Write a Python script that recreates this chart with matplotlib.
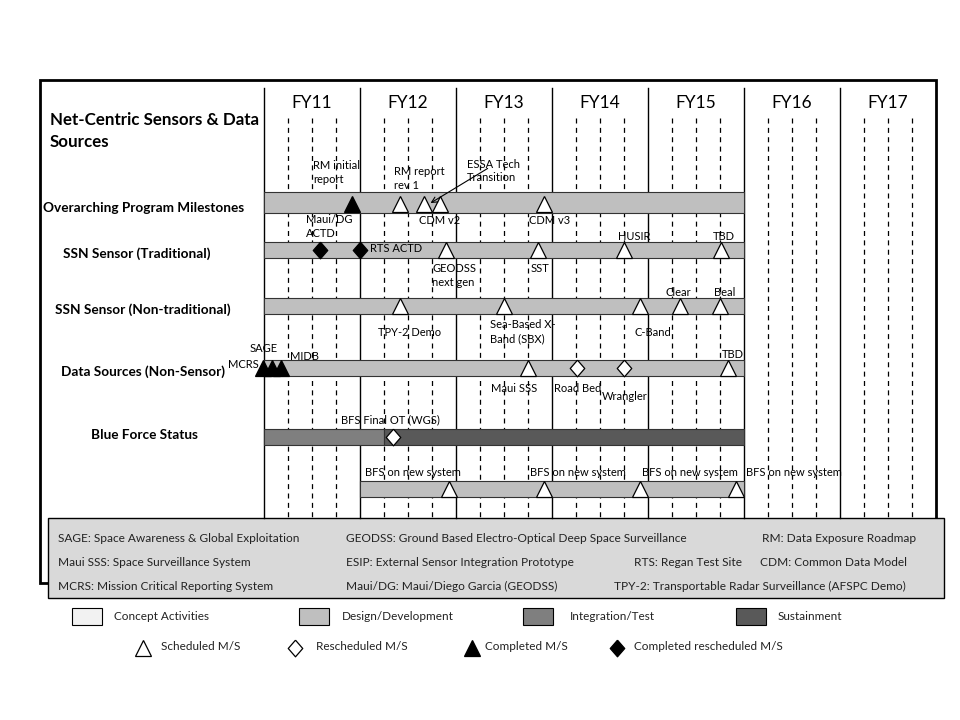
import matplotlib
matplotlib.use("Agg")
import matplotlib.pyplot as plt
from matplotlib.patches import Rectangle
from matplotlib.path import Path

plt.rcParams['font.family'] = ['Lato', 'DejaVu Sans']

# 财年表头
fy_labels = ['FY11', 'FY12', 'FY13', 'FY14', 'FY15', 'FY16', 'FY17']
fy_start = [2011, 2012, 2013, 2014, 2015, 2016, 2017]

# 各行名称
row_names = ['Overarching Program Milestones', 'SSN Sensor (Traditional)',
             'SSN Sensor (Non-traditional)', 'Data Sources (Non-Sensor)',
             'Blue Force Status', '']

# 条形：行号, 开始, 结束, 阶段
bar_row = [0, 1, 2, 3, 4, 4, 5]
bar_start = [2011.0, 2011.0, 2011.0, 2011.0, 2011.0, 2012.25, 2012.0]
bar_end = [2016.0, 2016.0, 2016.0, 2016.0, 2012.25, 2016.0, 2016.0]
bar_phase = ['design', 'design', 'design', 'design', 'integ', 'sustain', 'design']

# 里程碑：行号, 日期, 类型, 标签
ms_row = [0, 0, 0, 0, 0,
          1, 1, 1, 1, 1, 1,
          2, 2, 2, 2, 2,
          3, 3, 3, 3, 3, 3, 3,
          4,
          5, 5, 5, 5]
ms_date = [2011.92, 2012.42, 2012.67, 2012.83, 2013.92,
           2011.58, 2012.0, 2012.9, 2013.85, 2014.75, 2015.76,
           2012.42, 2013.5, 2014.92, 2015.33, 2015.75,
           2010.99, 2011.08, 2011.18, 2013.75, 2014.26, 2014.75, 2015.83,
           2012.34,
           2012.93, 2013.92, 2014.92, 2015.92]
ms_kind = ['completed', 'scheduled', 'scheduled', 'scheduled', 'scheduled',
           'completed_res', 'completed_res', 'scheduled', 'scheduled', 'scheduled', 'scheduled',
           'scheduled', 'scheduled', 'scheduled', 'scheduled', 'scheduled',
           'completed', 'completed', 'completed', 'scheduled', 'rescheduled', 'rescheduled', 'scheduled',
           'rescheduled',
           'scheduled', 'scheduled', 'scheduled', 'scheduled']
ms_label = ['RM initial\nreport', 'RM report\nrev 1', 'ESSA Tech\nTransition', 'CDM v2', 'CDM v3',
            'Maui/DG\nACTD', 'RTS ACTD', 'GEODSS\nnext gen', 'SST', 'HUSIR', 'TBD',
            'TPY-2 Demo', 'Sea-Based X-\nBand (SBX)', 'C-Band', 'Clear', 'Beal',
            'MCRS', 'SAGE', 'MIDB', 'Maui SSS', 'Road Bed', 'Wrangler', 'TBD',
            'BFS Final OT (WGS)',
            'BFS on new system', 'BFS on new system', 'BFS on new system', 'BFS on new system']

# 缩写说明
acronym_rows = [
    ['SAGE: Space Awareness & Global Exploitation',
     'GEODSS: Ground Based Electro-Optical Deep Space Surveillance',
     'RM: Data Exposure Roadmap'],
    ['Maui SSS: Space Surveillance System',
     'ESIP: External Sensor Integration Prototype',
     'RTS: Regan Test Site', 'CDM: Common Data Model'],
    ['MCRS: Mission Critical Reporting System',
     'Maui/DG: Maui/Diego Garcia (GEODSS)',
     'TPY-2: Transportable Radar Surveillance (AFSPC Demo)'],
]
phase_names = ['Concept Activities', 'Design/Development', 'Integration/Test', 'Sustainment']
kind_names = ['Scheduled M/S', 'Rescheduled M/S', 'Completed M/S', 'Completed rescheduled M/S']

# ---- 样式 / 布局 ----
phase_color = {'concept': '#f2f2f2', 'design': '#bfbfbf', 'integ': '#7f7f7f', 'sustain': '#595959'}
row_y = [202.5, 250, 306, 368, 437, 489]
row_h = [21, 16, 16, 16, 16, 16]
diamond = Path([(0, 1), (0.87, 0), (0, -1), (-0.87, 0), (0, 1)])
kind_style = {
    'scheduled': dict(marker='^', ms=12, mfc='white', mec='black'),
    'completed': dict(marker='^', ms=12, mfc='black', mec='black'),
    'rescheduled': dict(marker=diamond, ms=12, mfc='white', mec='black'),
    'completed_res': dict(marker=diamond, ms=12, mfc='black', mec='black'),
}
# 标签相对位置 (像素)
label_off = [(-39, -30), (-6, -24), (43, -31.5), (-21, 17.5), (-15, 17.5),
             (-14, -23.5), (10, -2), (-14, 25.5), (-7, 18), (-6, -14), (-8, -14),
             (-22, 26), (-14, 25.5), (-6, 26), (-14, -14), (-6, -14),
             (-35, -4), (-22, -20), (9, -11), (-37, 20), (-23, 20), (-22, 28), (-6, -14),
             (-52, -17),
             (-84, -17), (-14, -17), (2, -17), (10, -17)]
row_label_x = [144, 137, 143, 143, 144]
row_label_y = [208, 254, 310, 372, 435]

fig = plt.figure(figsize=(9.6, 7.2), dpi=100)
lay = fig.add_axes([0, 0, 1, 1])
lay.set_xlim(0, 960)
lay.set_ylim(720, 0)
lay.axis('off')
ax = fig.add_axes([0, 0, 1, 1])
ax.set_xlim(2011 - 264 / 96, 2011 + 696 / 96)
ax.set_ylim(720, 0)
ax.axis('off')
ax.patch.set_alpha(0)

# 外框
lay.add_patch(Rectangle((40, 80), 896, 503, fill=False, lw=2, ec='black', zorder=1))

# 标题
lay.text(50, 131, 'Net-Centric Sensors & Data\nSources', fontsize=12.2, fontweight='bold',
         va='center', ha='left', linespacing=1.45)

# 财年线
for i, (lab, s) in enumerate(zip(fy_labels, fy_start)):
    ax.plot([s, s], [88, 518], color='black', lw=1, zorder=2)
    ax.text(s + 0.5, 103, lab, fontsize=12.5, ha='center', va='center')
    for q in [0.25, 0.5, 0.75]:
        ax.plot([s + q, s + q], [118, 518], color='black', lw=0.9,
                ls=(0, (4, 3.5)), zorder=2)

# 行名
for name, x, y in zip(row_names, row_label_x, row_label_y):
    lay.text(x, y, name, fontsize=9.8, fontweight='bold', ha='center', va='center')

# 条形
for r, s, e, p in zip(bar_row, bar_start, bar_end, bar_phase):
    ax.barh(row_y[r], e - s, left=s, height=row_h[r], color=phase_color[p],
            edgecolor='#333333', lw=0.8, zorder=3)

# 里程碑
for r, d, k, lab, off in zip(ms_row, ms_date, ms_kind, ms_label, label_off):
    y = row_y[r] + (1 if r == 0 else 0)
    ax.plot([d], [y], linestyle='none', mew=0.9, zorder=5, **kind_style[k])
    ax.annotate(lab, (d, row_y[r]), xytext=(off[0], -off[1]), textcoords='offset pixels',
                fontsize=8, ha='left', va='center', linespacing=1.3, zorder=6)

# ESSA 箭头
ax.annotate('', xy=(ms_date[2] + 0.04, row_y[0] + 2), xytext=(2011 + 226 / 96, 167),
            arrowprops=dict(arrowstyle='->', lw=0.8, color='black'), zorder=6)

# 缩写说明框
lay.add_patch(Rectangle((48, 518), 896, 80, fc='#d9d9d9', ec='black', lw=1, zorder=7))
acr_x = [[58, 346, 762], [58, 346, 634, 760], [58, 346, 614]]
for texts, xs, y in zip(acronym_rows, acr_x, [538, 562, 586]):
    for t, x in zip(texts, xs):
        lay.text(x, y, t, fontsize=8.6, ha='left', va='center', zorder=8, color='#222222')

# 阶段图例
for name, key, x, tx in zip(phase_names, ['concept', 'design', 'integ', 'sustain'],
                            [72, 299, 523, 736], [114, 342, 570, 778]):
    lay.add_patch(Rectangle((x, 608), 30, 17, fc=phase_color[key], ec='black', lw=0.8))
    lay.text(tx, 616, name, fontsize=8.5, ha='left', va='center', color='#222222')

# 里程碑图例
for name, key, x, tx in zip(kind_names, ['scheduled', 'rescheduled', 'completed', 'completed_res'],
                            [143, 295, 472, 617], [161, 316, 485, 634]):
    lay.plot([x], [648], linestyle='none', mew=0.9, **kind_style[key])
    lay.text(tx, 647, name, fontsize=8.5, ha='left', va='center', color='#222222')

fig.savefig('out.png', dpi=100)
